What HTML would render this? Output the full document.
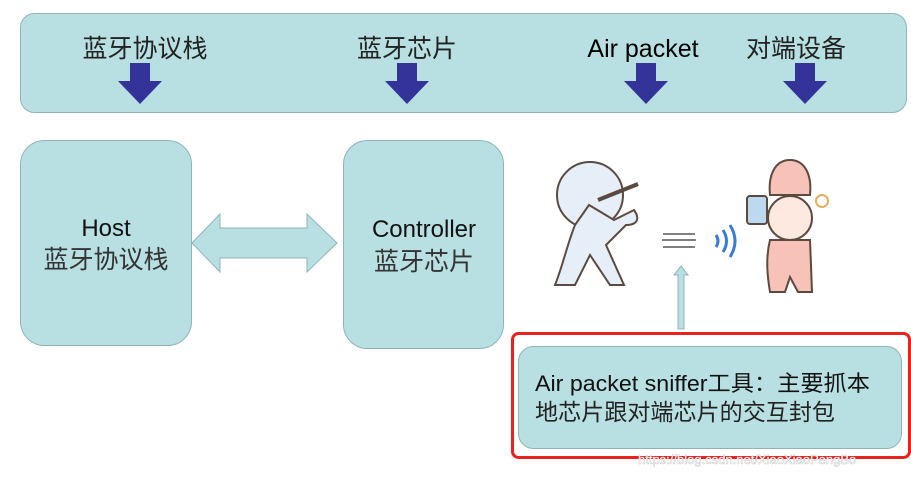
<!DOCTYPE html>
<html><head><meta charset="utf-8"><style>
body{margin:0;width:911px;height:476px;background:#fff;overflow:hidden;font-family:"Liberation Sans","Noto Sans CJK SC",sans-serif}
</style></head><body>
<svg width="911" height="476" viewBox="0 0 911 476" xmlns="http://www.w3.org/2000/svg" font-family="Liberation Sans, Noto Sans CJK SC, sans-serif">
<rect x="20.5" y="13.5" width="886" height="99" rx="14" fill="#b8dfe2" stroke="#8fb5b8"/>
<g font-size="25" fill="#222" text-anchor="middle">
<text x="145" y="57">蓝牙协议栈</text>
<text x="407" y="57">蓝牙芯片</text>
<text x="643" y="57" fill="#000">Air packet</text>
<text x="796" y="57">对端设备</text>
</g>
<g fill="#33339a">
<path d="M130 63h20v18h12l-22 23-22-23h12z"/>
<path d="M397 63h20v18h12l-22 23-22-23h12z"/>
<path d="M636 63h20v18h12l-22 23-22-23h12z"/>
<path d="M795 63h20v18h12l-22 23-22-23h12z"/>
</g>
<rect x="20.5" y="140.5" width="171" height="205" rx="24" fill="#b8dfe2" stroke="#8fb5b8"/>
<rect x="343.5" y="140.5" width="160" height="208" rx="24" fill="#b8dfe2" stroke="#8fb5b8"/>
<text x="106" y="236" font-size="24" text-anchor="middle" fill="#111">Host</text>
<text x="106" y="268" font-size="25" text-anchor="middle" fill="#333">蓝牙协议栈</text>
<text x="424" y="237" font-size="24" text-anchor="middle" fill="#111">Controller</text>
<text x="424" y="270" font-size="25" text-anchor="middle" fill="#333">蓝牙芯片</text>
<path d="M192 243l28-29v14h87v-14l30 29-30 29v-14h-87v14z" fill="#b8dfe2" stroke="#8fb5b8"/>
<g stroke="#5a4a40" stroke-width="2">
<circle cx="590" cy="195" r="33" fill="#e6eef8"/>
<path d="M598 200l40-16" stroke-width="4"/>
<path d="M575 225c-8 20-12 40-20 60h20l15-30 20 30h14l-18-40 20-20c10 0 15-5 8-15l-20 10-25-15z" fill="#e6eef8"/>
<path d="M770 195c-2-20 5-35 20-35s22 15 20 35z" fill="#f7c3b8"/>
<circle cx="790" cy="218" r="22" fill="#fde9df"/>
<path d="M770 240c-5 20-2 40 0 52h15l5-15 8 15h14l-2-52z" fill="#f7c3b8"/>
<rect x="747" y="196" width="20" height="28" rx="3" fill="#bcd9f0"/>
</g>
<circle cx="822" cy="201" r="6" fill="#fff" stroke="#e0b060" stroke-width="2"/>
<g stroke="#555" stroke-width="1.5"><path d="M663 234h32M662 240h34M663 247h32"/></g>
<g fill="none" stroke="#3a7bd5" stroke-width="3"><path d="M716 235q4 6 0 12"/><path d="M723 230q7 11 0 22"/><path d="M730 225q10 16 0 32"/></g>
<path d="M681 266l-7 9h4v54h6v-54h4z" fill="#b8dfe2" stroke="#8fb5b8"/>
<rect x="512.5" y="333.5" width="397" height="124" rx="6" fill="none" stroke="#e8231f" stroke-width="3"/>
<rect x="518.5" y="346.5" width="383" height="102" rx="15" fill="#b8dfe2" stroke="#8fb5b8"/>
<text x="535" y="391" font-size="22" fill="#111" textLength="335" lengthAdjust="spacingAndGlyphs">Air packet sniffer工具：主要抓本</text>
<text x="535" y="420" font-size="23" fill="#222" textLength="300" lengthAdjust="spacingAndGlyphs">地芯片跟对端芯片的交互封包</text>
<text x="638" y="464" font-size="13" fill="#fff" stroke="#ccc" stroke-width="0.5">https://blog.csdn.net/XiaoXiaoPengBo</text>
</svg>
</body></html>
